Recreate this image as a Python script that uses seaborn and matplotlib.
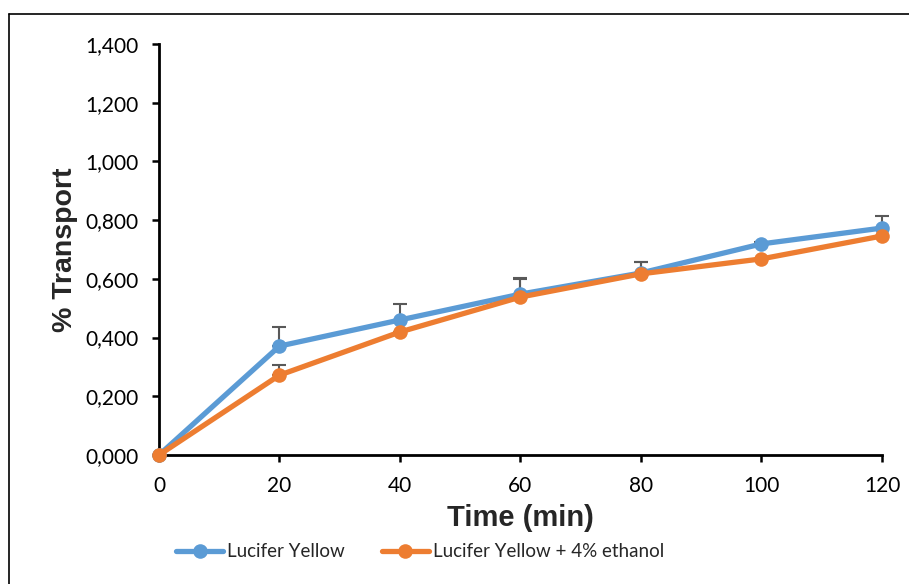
import matplotlib
matplotlib.use("Agg")
import matplotlib.pyplot as plt
import matplotlib.lines as mlines
import seaborn as sns
import pandas as pd

time_min = [0, 20, 40, 60, 80, 100, 120]
ly = [0.000, 0.371, 0.460, 0.548, 0.620, 0.719, 0.773]
ly_err = [0.000, 0.065, 0.054, 0.055, 0.037, 0.005, 0.040]
ly_eth = [0.000, 0.272, 0.419, 0.538, 0.617, 0.668, 0.746]
ly_eth_err = [0.000, 0.035, 0.000, 0.060, 0.040, 0.000, 0.000]
series_names = ["Lucifer Yellow", "Lucifer Yellow + 4% ethanol"]
colors = ["#5B9BD5", "#ED7D31"]
yticks = [0.0, 0.2, 0.4, 0.6, 0.8, 1.0, 1.2, 1.4]
xticks = [0, 20, 40, 60, 80, 100, 120]

sns.set_theme(style="white")
plt.rcParams['font.family'] = ['Lato', 'DejaVu Sans']

df = pd.DataFrame({
    "time": time_min * 2,
    "value": ly + ly_eth,
    "series": [series_names[0]] * len(time_min) + [series_names[1]] * len(time_min),
})

fig = plt.figure(figsize=(9.09, 5.84), dpi=100)
ax = fig.add_axes([0.1749, 0.2209, 0.7954, 0.7038])

# error bars (upper only)
for vals, errs in [(ly, ly_err), (ly_eth, ly_eth_err)]:
    ax.errorbar(time_min, vals, yerr=[[0] * len(errs), errs], fmt='none',
                ecolor="#595959", elinewidth=1.5, capsize=5, capthick=1.5, zorder=1)

sns.lineplot(data=df, x="time", y="value", hue="series", palette=colors,
             marker="o", markersize=10.5, markeredgewidth=0, linewidth=3.8,
             ax=ax, legend=False, zorder=3)

ax.set_xlim(0, 120)
ax.set_ylim(0, 1.4)
ax.set_xticks(xticks)
ax.set_xticklabels([str(t) for t in xticks])
ax.set_yticks(yticks)
ax.set_yticklabels([f"{v:.3f}".replace(".", ",") for v in yticks])
ax.tick_params(axis='both', labelsize=15, colors='black', direction='out',
               length=5, width=1.8, bottom=True, left=True)
ax.tick_params(axis='x', pad=10)
ax.tick_params(axis='y', pad=10)
for side in ["top", "right"]:
    ax.spines[side].set_visible(False)
for side in ["left", "bottom"]:
    ax.spines[side].set_color("black")
    ax.spines[side].set_linewidth(2)
ax.grid(False)

for a in ax.lines + ax.collections:
    a.set_clip_on(False)

ax.set_xlabel("Time (min)", fontsize=21, fontweight='bold',
              family=['Liberation Sans', 'DejaVu Sans'], labelpad=6)
ax.set_ylabel("% Transport", fontsize=20.5, fontweight='bold',
              family=['Liberation Sans', 'DejaVu Sans'], labelpad=5)

handles = [mlines.Line2D([], [], color=c, marker='o', markersize=10.5, linewidth=3.8,
                         markeredgewidth=0) for c in colors]
fig.legend(handles, series_names, loc='center', bbox_to_anchor=(0.462, 0.055),
           ncol=2, frameon=False, fontsize=13.5, handlelength=2.5, handletextpad=0.2,
           columnspacing=2.0)

# figure frame (left and top lines)
fig.add_artist(mlines.Line2D([9 / 909, 9 / 909], [0, 1 - 14 / 584], color='black',
                             linewidth=1.2, transform=fig.transFigure))
fig.add_artist(mlines.Line2D([9 / 909, 1], [1 - 14 / 584, 1 - 14 / 584], color='black',
                             linewidth=1.2, transform=fig.transFigure))

fig.savefig("out.png", dpi=100)
